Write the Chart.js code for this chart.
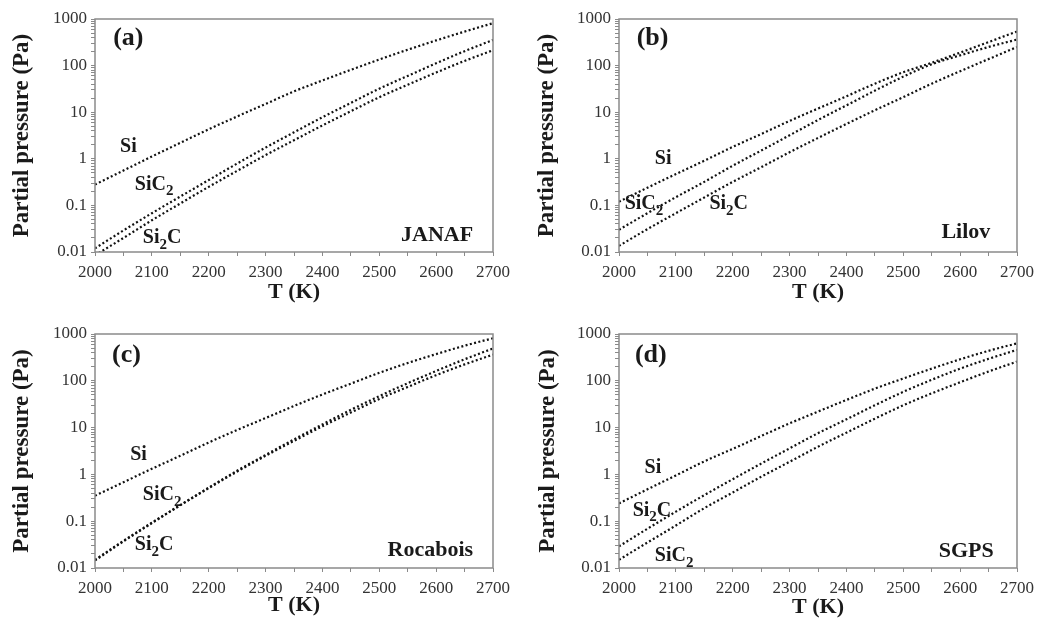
<!DOCTYPE html>
<html>
<head>
<meta charset="utf-8">
<script src="https://cdn.jsdelivr.net/npm/chart.js@4.4.1/dist/chart.umd.min.js"></script>
<style>
  body { margin: 0; background: #fff; }
  #wrap { position: relative; width: 1040px; height: 626px; }
  canvas { position: absolute; }
</style>
</head>
<body>
<div id="wrap">
  <canvas id="panelA" width="520" height="313" style="left:0;top:0"></canvas>
  <canvas id="panelB" width="520" height="313" style="left:520px;top:0"></canvas>
  <canvas id="panelC" width="520" height="313" style="left:0;top:313px"></canvas>
  <canvas id="panelD" width="520" height="313" style="left:520px;top:313px"></canvas>
</div>
<script>
// Temperaturas (K)
const TEMPS = [2000, 2050, 2100, 2150, 2200, 2250, 2300, 2350, 2400, 2450, 2500, 2550, 2600, 2650, 2700];

// (a) JANAF
const A_SI   = [0.28, 0.56, 1.12, 2.2, 4.3, 8.1, 15, 28, 48, 81, 135, 219, 347, 537, 813];
const A_SIC2 = [0.012, 0.029, 0.068, 0.155, 0.35, 0.79, 1.74, 3.7, 7.8, 15.8, 32, 60, 112, 204, 355];
const A_SI2C = [0.0085, 0.020, 0.048, 0.11, 0.25, 0.55, 1.2, 2.5, 5.2, 10.5, 21, 39, 71, 126, 214];

// (b) Lilov
const B_SI   = [0.12, 0.24, 0.47, 0.91, 1.8, 3.4, 6.5, 12, 22, 41, 72, 115, 190, 320, 540];
const B_SIC2 = [0.030, 0.068, 0.15, 0.32, 0.71, 1.5, 3.2, 6.8, 14, 29, 58, 107, 166, 251, 363];
const B_SI2C = [0.0135, 0.031, 0.068, 0.148, 0.32, 0.66, 1.38, 2.8, 5.6, 11, 21, 41, 76, 138, 250];

// (c) Rocabois
const C_SI   = [0.35, 0.68, 1.32, 2.5, 4.8, 8.9, 16, 29, 51, 87, 148, 240, 372, 562, 813];
const C_SIC2 = [0.015, 0.038, 0.093, 0.22, 0.52, 1.2, 2.6, 5.6, 11.7, 24, 47, 89, 162, 288, 490];
const C_SI2C = [0.0145, 0.037, 0.091, 0.22, 0.51, 1.15, 2.5, 5.2, 10.7, 21, 41, 74, 132, 224, 363];

// (d) SGPS
const D_SI   = [0.24, 0.48, 0.95, 1.9, 3.5, 6.6, 12.3, 22, 39, 68, 112, 182, 288, 437, 631];
const D_SI2C = [0.029, 0.069, 0.16, 0.36, 0.79, 1.7, 3.6, 7.6, 15, 30, 58, 105, 182, 295, 457];
const D_SIC2 = [0.015, 0.035, 0.081, 0.19, 0.41, 0.89, 1.86, 3.9, 7.8, 15.5, 30, 54, 93, 158, 257];

// Ejes
const Y_LABEL_VALUES = [0.01, 0.1, 1, 10, 100, 1000];
const Y_LABELS = ['0.01', '0.1', '1', '10', '100', '1000'];
const X_LABEL_STEP = 100;

const SERIF = "'Liberation Serif', 'DejaVu Serif', serif";

// Marcas menores del eje logaritmico
function logTicks() {
    const ticks = [];
    for (let e = -2; e < 3; e++) {
        for (let s = 1; s < 10; s++) ticks.push({ value: s * Math.pow(10, e) });
    }
    ticks.push({ value: 1000 });
    return ticks;
}

// Marco completo alrededor del area de trazado
const marcoPlugin = {
    id: 'marco',
    afterDraw(chart) {
        const { ctx, chartArea: a } = chart;
        ctx.save();
        ctx.strokeStyle = '#8a8a8a';
        ctx.lineWidth = 1.5;
        ctx.strokeRect(a.left, a.top, a.right - a.left, a.bottom - a.top);
        ctx.restore();
    }
};

// Textos dentro del grafico ("_2" = subindice)
const textosPlugin = {
    id: 'textos',
    afterDraw(chart, args, opts) {
        const { ctx, scales } = chart;
        ctx.save();
        ctx.fillStyle = '#1a1a1a';
        ctx.textBaseline = 'middle';
        (opts.items || []).forEach(it => {
            const size = it.size || 20;
            const partes = [];
            const re = /_(.)|([^_]+)/g;
            let m;
            while ((m = re.exec(it.text)) !== null) {
                if (m[1]) partes.push({ t: m[1], sub: true });
                else partes.push({ t: m[2], sub: false });
            }
            const fuente = sub => 'bold ' + (sub ? Math.round(size * 0.75) : size) + 'px ' + SERIF;
            let ancho = 0;
            partes.forEach(p => { ctx.font = fuente(p.sub); ancho += ctx.measureText(p.t).width; });
            let x = scales.x.getPixelForValue(it.x);
            const y = scales.y.getPixelForValue(it.y);
            if (it.align === 'right') x -= ancho;
            partes.forEach(p => {
                ctx.font = fuente(p.sub);
                ctx.fillText(p.t, x, p.sub ? y + size * 0.35 : y);
                x += ctx.measureText(p.t).width;
            });
        });
        ctx.restore();
    }
};

function serie(valores) {
    return {
        data: TEMPS.map((t, i) => ({ x: t, y: valores[i] })),
        borderColor: '#111',
        borderWidth: 2.2,
        borderDash: [2, 2.4],
        pointRadius: 0,
        cubicInterpolationMode: 'monotone',
        fill: false
    };
}

function crearPanel(id, series, textos, lay) {
    const ctx = document.getElementById(id).getContext('2d');
    new Chart(ctx, {
        type: 'line',
        data: { datasets: series.map(serie) },
        plugins: [marcoPlugin, textosPlugin],
        options: {
            responsive: false,
            animation: false,
            devicePixelRatio: 1,
            layout: { padding: { left: 0, right: lay.right, top: lay.top, bottom: 0 } },
            plugins: {
                legend: { display: false },
                tooltip: { enabled: false },
                textos: { items: textos }
            },
            scales: {
                x: {
                    type: 'linear',
                    min: 2000,
                    max: 2700,
                    afterFit(scale) { scale.height = lay.xh; },
                    border: { display: false },
                    grid: { drawOnChartArea: false, drawTicks: true, tickLength: 4, color: '#8a8a8a' },
                    ticks: {
                        stepSize: 50,
                        autoSkip: false,
                        maxRotation: 0,
                        padding: 6,
                        color: '#333',
                        font: { family: SERIF, size: 17 },
                        callback: v => (v % X_LABEL_STEP === 0 ? String(v) : '')
                    },
                    title: {
                        display: true,
                        text: 'T (K)',
                        color: '#1a1a1a',
                        font: { family: SERIF, size: 22, weight: 'bold', lineHeight: 1.2 },
                        padding: { top: 0, bottom: lay.xtp }
                    }
                },
                y: {
                    type: 'logarithmic',
                    min: 0.01,
                    max: 1000,
                    afterFit(scale) { scale.width = lay.yw; },
                    afterBuildTicks(scale) { scale.ticks = logTicks(); },
                    border: { display: false },
                    grid: { drawOnChartArea: false, drawTicks: true, tickLength: 4, color: '#8a8a8a' },
                    ticks: {
                        autoSkip: false,
                        padding: 4,
                        color: '#333',
                        font: { family: SERIF, size: 17 },
                        callback: v => {
                            const i = Y_LABEL_VALUES.findIndex(t => Math.abs(t - v) < t * 1e-6);
                            return i >= 0 ? Y_LABELS[i] : '';
                        }
                    },
                    title: {
                        display: true,
                        text: 'Partial pressure (Pa)',
                        color: '#1a1a1a',
                        font: { family: SERIF, size: 23, weight: 'bold', lineHeight: 1.2 },
                        padding: { top: lay.ytp, bottom: 0 }
                    }
                }
            }
        }
    });
}

crearPanel('panelA', [A_SI, A_SIC2, A_SI2C], [
    { text: '(a)', x: 2032, y: 390, size: 26 },
    { text: 'Si', x: 2044, y: 1.8 },
    { text: 'SiC_2', x: 2070, y: 0.28 },
    { text: 'Si_2C', x: 2084, y: 0.02 },
    { text: 'JANAF', x: 2665, y: 0.023, align: 'right', size: 22 }
], { right: 27, top: 19, xh: 61, yw: 95, ytp: 8, xtp: 7 });

crearPanel('panelB', [B_SI, B_SIC2, B_SI2C], [
    { text: '(b)', x: 2031, y: 390, size: 26 },
    { text: 'Si', x: 2063, y: 1.0 },
    { text: 'SiC_2', x: 2010, y: 0.107 },
    { text: 'Si_2C', x: 2159, y: 0.107 },
    { text: 'Lilov', x: 2653, y: 0.026, align: 'right', size: 22 }
], { right: 20, top: 19, xh: 61, yw: 99, ytp: 13, xtp: 7 });

crearPanel('panelC', [C_SI, C_SIC2, C_SI2C], [
    { text: '(c)', x: 2030, y: 355, size: 26 },
    { text: 'Si', x: 2062, y: 2.6 },
    { text: 'SiC_2', x: 2084, y: 0.36 },
    { text: 'Si_2C', x: 2070, y: 0.031 },
    { text: 'Rocabois', x: 2665, y: 0.024, align: 'right', size: 22 }
], { right: 27, top: 21, xh: 58, yw: 95, ytp: 8, xtp: 7 });

crearPanel('panelD', [D_SI, D_SI2C, D_SIC2], [
    { text: '(d)', x: 2028, y: 355, size: 26 },
    { text: 'Si', x: 2045, y: 1.4 },
    { text: 'Si_2C', x: 2024, y: 0.17 },
    { text: 'SiC_2', x: 2063, y: 0.018 },
    { text: 'SGPS', x: 2659, y: 0.023, align: 'right', size: 22 }
], { right: 20, top: 21, xh: 58, yw: 99, ytp: 14, xtp: 5 });
</script>
</body>
</html>
